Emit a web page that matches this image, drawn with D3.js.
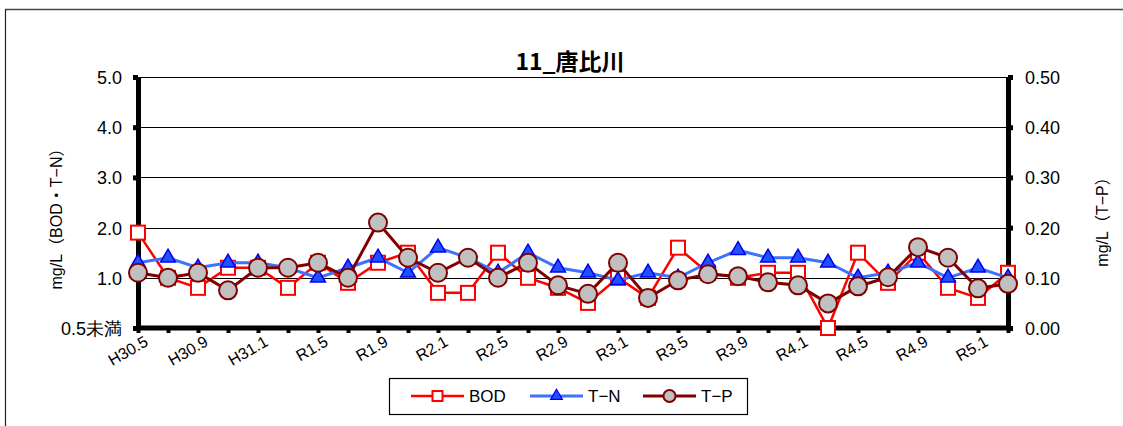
<!DOCTYPE html>
<html><head><meta charset="utf-8">
<script src="https://cdn.jsdelivr.net/npm/d3@7"></script>
<style>
body{margin:0;background:#fff;}
svg{display:block;font-family:"Liberation Sans","Noto Sans CJK JP",Arial,sans-serif;}
</style></head>
<body><svg id="c" width="1123" height="426"></svg>
<script>
const categories = ["H30.5","H30.7","H30.9","H30.11","H31.1","H31.3","R1.5","R1.7","R1.9","R1.11",
  "R2.1","R2.3","R2.5","R2.7","R2.9","R2.11","R3.1","R3.3","R3.5","R3.7",
  "R3.9","R3.11","R4.1","R4.3","R4.5","R4.7","R4.9","R4.11","R5.1","R5.3"];
const bod = [1.9,1.0,0.8,1.2,1.2,0.8,1.3,0.9,1.3,1.5,
  0.7,0.7,1.5,1.0,0.8,0.5,1.0,0.6,1.6,1.1,
  1.0,1.1,1.1,0.0,1.5,0.9,1.5,0.8,0.6,1.1];
const tn = [1.3,1.4,1.2,1.3,1.3,1.2,1.0,1.2,1.4,1.1,
  1.6,1.4,1.1,1.5,1.2,1.1,0.95,1.1,1.0,1.3,
  1.55,1.4,1.4,1.3,1.0,1.1,1.3,1.0,1.2,1.0];
const tp = [0.11,0.10,0.11,0.075,0.12,0.12,0.13,0.10,0.21,0.14,
  0.11,0.14,0.10,0.13,0.085,0.068,0.13,0.06,0.095,0.107,
  0.103,0.091,0.085,0.049,0.083,0.101,0.161,0.14,0.079,0.088];
const leftTicks = [0,1,2,3,4,5];
const rightTicks = [0,0.1,0.2,0.3,0.4,0.5];
const leftTickLabels = ["0.5未満","1.0","2.0","3.0","4.0","5.0"];
const seriesNames = ["BOD","T−N","T−P"];
const title = "11_唐比川";

const svg = d3.select("#c");
const L = 138, R = 1008, T = 77, B = 328;
const x = d3.scalePoint().domain(categories).range([L, R]);
const yL = d3.scaleLinear().domain([0,5]).range([B, T]);
const yR = d3.scaleLinear().domain([0,0.5]).range([B, T]);

// outer frame
svg.append("line").attr("x1",5).attr("x2",1123).attr("y1",9.5).attr("y2",9.5).attr("stroke","#444").attr("stroke-width",1.5);
svg.append("line").attr("x1",5.5).attr("x2",5.5).attr("y1",9).attr("y2",426).attr("stroke","#222").attr("stroke-width",1.2);

// title
svg.append("text").attr("x",570).attr("y",70).attr("text-anchor","middle")
  .attr("font-size",23).attr("font-weight","bold").attr("font-family","'Noto Sans CJK JP','Liberation Sans',sans-serif").text(title);

// gridlines
svg.append("g").selectAll("line").data(leftTicks.filter(d=>d>0)).join("line")
  .attr("x1",L).attr("x2",R).attr("y1",d=>Math.round(yL(d))+0.5).attr("y2",d=>Math.round(yL(d))+0.5)
  .attr("stroke","#000").attr("stroke-width",1);

// left axis
const gl = svg.append("g").attr("transform",`translate(${L},0)`)
  .call(d3.axisLeft(yL).tickValues(leftTicks).tickSize(5).tickSizeOuter(0)
    .tickFormat((d,i)=>leftTickLabels[i]));
gl.select(".domain").attr("stroke","#000").attr("stroke-width",5);
gl.selectAll(".tick line").attr("stroke","#000").attr("stroke-width",5);
gl.selectAll(".tick text").attr("font-size",18).attr("fill","#000").attr("x",-16).attr("dy","0.36em");

// right axis
const gr = svg.append("g").attr("transform",`translate(${R},0)`)
  .call(d3.axisRight(yR).tickValues(rightTicks).tickSize(5).tickSizeOuter(0)
    .tickFormat(d3.format(".2f")));
gr.select(".domain").attr("stroke","#000").attr("stroke-width",5);
gr.selectAll(".tick line").attr("stroke","#000").attr("stroke-width",5);
gr.selectAll(".tick text").attr("font-size",18).attr("fill","#000").attr("x",17).attr("dy","0.36em");

// bottom axis
const gb = svg.append("g").attr("transform",`translate(0,${B})`)
  .call(d3.axisBottom(x).tickSize(5).tickSizeOuter(0).tickFormat((d,i)=> i%2===0 ? d : ""));
gb.select(".domain").attr("stroke","#000").attr("stroke-width",5).attr("d",`M${L-2},0H${R+2}`);
gb.selectAll(".tick line").attr("stroke","#000").attr("stroke-width",4);
gb.selectAll(".tick text").attr("font-size",16).attr("fill","#000")
  .attr("text-anchor","end").attr("transform","translate(5,7) rotate(-30)").attr("dy","0.71em").attr("y",0);

// axis titles
svg.append("text").attr("transform","translate(62,215) rotate(-90)").attr("text-anchor","middle")
  .attr("font-size",16).text("mg/L（BOD・T−N）");
svg.append("text").attr("transform","translate(1108,218) rotate(-90)").attr("text-anchor","middle")
  .attr("font-size",16).text("mg/L（T−P）");

// series
const lineL = d3.line().x((d,i)=>x(categories[i])).y(d=>yL(d));
const lineR = d3.line().x((d,i)=>x(categories[i])).y(d=>yR(d));
const tri = d3.symbol().type(d3.symbolTriangle).size(95);

svg.append("path").datum(bod).attr("d",lineL).attr("fill","none").attr("stroke","#ff0000").attr("stroke-width",2.5);
svg.append("g").selectAll("rect").data(bod).join("rect")
  .attr("x",(d,i)=>x(categories[i])-7).attr("y",d=>yL(d)-7).attr("width",14).attr("height",14)
  .attr("fill","#fff").attr("stroke","#ff0000").attr("stroke-width",2);

svg.append("path").datum(tn).attr("d",lineL).attr("fill","none").attr("stroke","#3d72ff").attr("stroke-width",3);
svg.append("g").selectAll("path").data(tn).join("path")
  .attr("d",tri).attr("transform",(d,i)=>`translate(${x(categories[i])},${yL(d)})`)
  .attr("fill","#2050ff").attr("stroke","#0000ee").attr("stroke-width",1.5);

svg.append("path").datum(tp).attr("d",lineR).attr("fill","none").attr("stroke","#800000").attr("stroke-width",3);
svg.append("g").selectAll("circle").data(tp).join("circle")
  .attr("cx",(d,i)=>x(categories[i])).attr("cy",d=>yR(d)).attr("r",9)
  .attr("fill","#c0c0c0").attr("stroke","#800000").attr("stroke-width",2);

// legend
const lg = svg.append("g");
lg.append("rect").attr("x",389.5).attr("y",378.5).attr("width",358).attr("height",36)
  .attr("fill","#fff").attr("stroke","#000").attr("stroke-width",1.2);
const items = [
  {name:seriesNames[0], x0:411, color:"#ff0000", sw:2.5, shape:"sq"},
  {name:seriesNames[1], x0:530, color:"#3d72ff", sw:3, shape:"tri"},
  {name:seriesNames[2], x0:643, color:"#800000", sw:3, shape:"ci"}];
items.forEach(it=>{
  const cy = 396;
  lg.append("line").attr("x1",it.x0).attr("x2",it.x0+53).attr("y1",cy).attr("y2",cy).attr("stroke",it.color).attr("stroke-width",it.sw);
  const cx = it.x0+26.5;
  if(it.shape==="sq") lg.append("rect").attr("x",cx-5).attr("y",cy-5).attr("width",10).attr("height",10).attr("fill","#fff").attr("stroke","#ff0000").attr("stroke-width",2);
  if(it.shape==="tri") lg.append("path").attr("d",d3.symbol().type(d3.symbolTriangle).size(60)()).attr("transform",`translate(${cx},${cy})`).attr("fill","#2050ff").attr("stroke","#0000ee").attr("stroke-width",1.2);
  if(it.shape==="ci") lg.append("circle").attr("cx",cx).attr("cy",cy).attr("r",6).attr("fill","#c0c0c0").attr("stroke","#800000").attr("stroke-width",2);
  lg.append("text").attr("x",it.x0+58).attr("y",cy).attr("dy","0.36em").attr("font-size",17).text(it.name);
});
</script></body></html>
